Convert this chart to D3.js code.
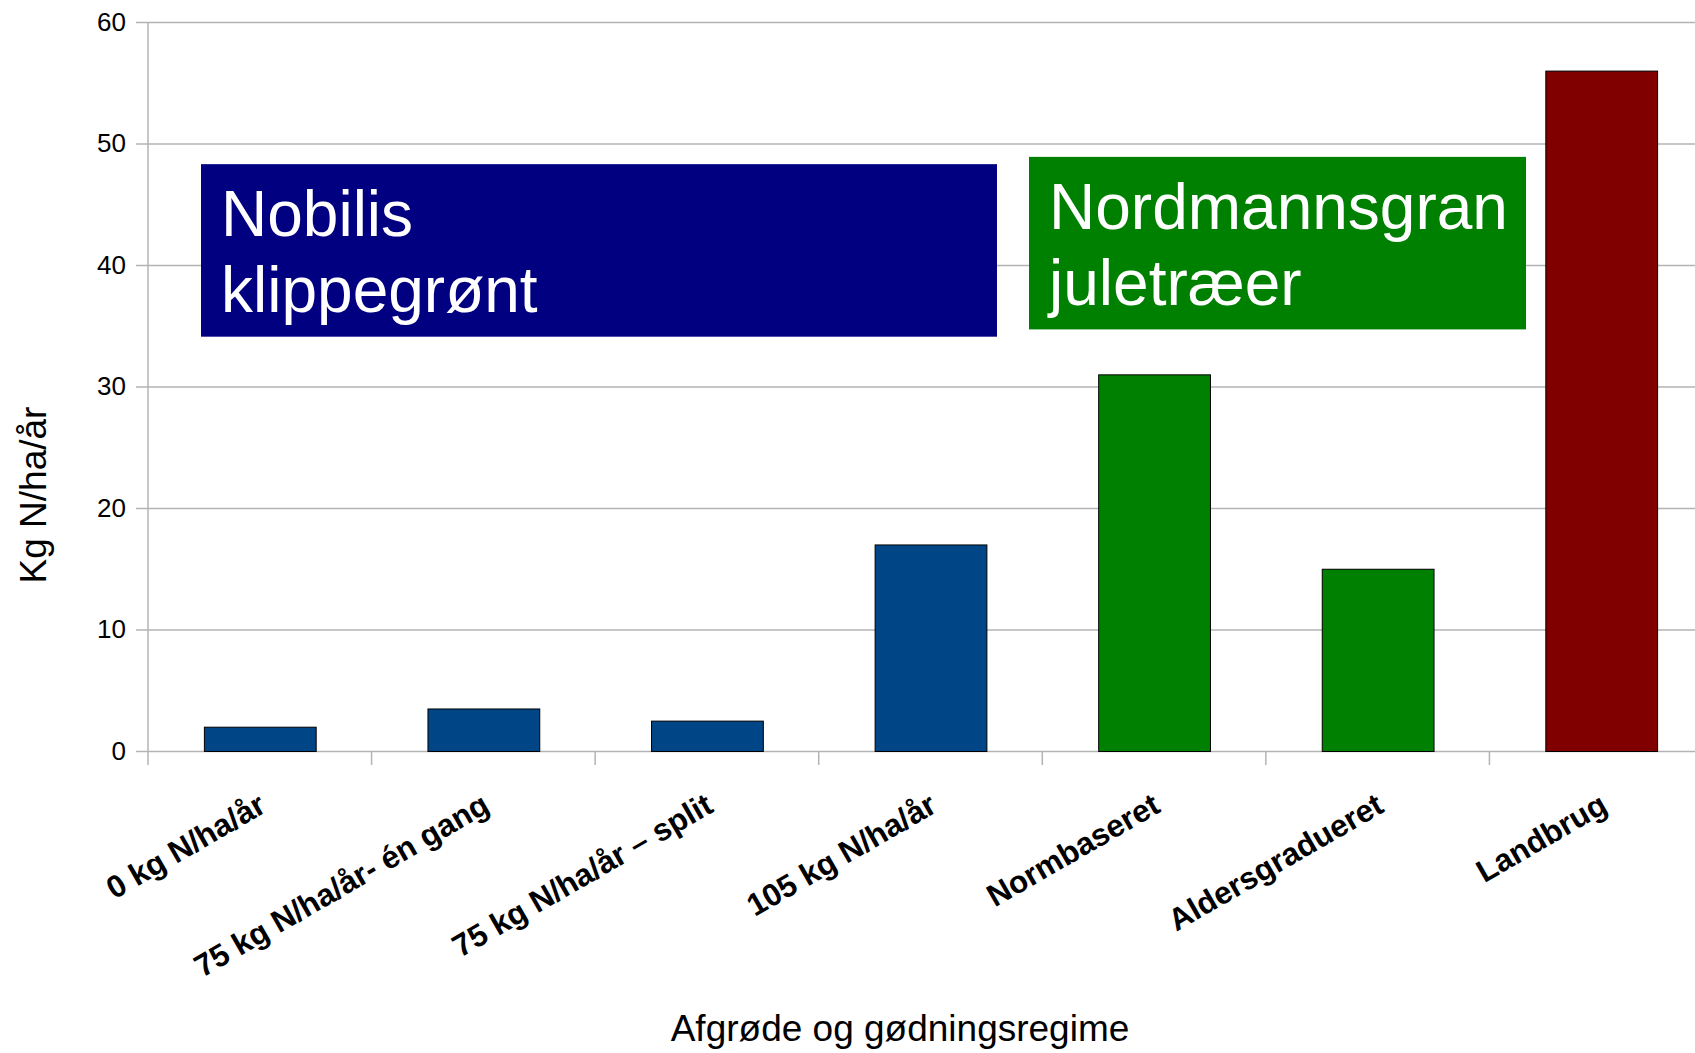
<!DOCTYPE html>
<html>
<head>
<meta charset="utf-8">
<script src="https://cdn.jsdelivr.net/npm/d3@7"></script>
<style>
  html, body { margin: 0; padding: 0; background: #fff; overflow: hidden; }
  svg { display: block; font-family: "Liberation Sans", Arial, sans-serif; }
</style>
</head>
<body>
<div id="chart"></div>
<script>
const categories = [
    '0 kg N/ha/år',
    '75 kg N/ha/år- én gang',
    '75 kg N/ha/år – split',
    '105 kg N/ha/år',
    'Normbaseret',
    'Aldersgradueret',
    'Landbrug'
];
const values = [2, 3.5, 2.5, 17, 31, 15, 56];
const groups = ['Nobilis', 'Nobilis', 'Nobilis', 'Nobilis', 'Nordmannsgran', 'Nordmannsgran', 'Landbrug'];
const yTicks = [0, 10, 20, 30, 40, 50, 60];
const boxLines = [
    ['Nobilis', 'klippegrønt'],
    ['Nordmannsgran', 'juletræer']
];
const yTitle = 'Kg N/ha/år';
const xTitle = 'Afgrøde og gødningsregime';

function drawChart() {
    const width = 1695, height = 1053;
    const left = 148, right = 1713, top = 22, bottom = 751;

    const svg = d3.select('#chart')
        .append('svg')
        .attr('width', width)
        .attr('height', height);

    const x = d3.scaleBand()
        .domain(categories)
        .range([left, right])
        .paddingInner(0.5)
        .paddingOuter(0.25);

    const y = d3.scaleLinear()
        .domain([0, 60])
        .range([bottom, top]);

    const color = d3.scaleOrdinal()
        .domain(['Nobilis', 'Nordmannsgran', 'Landbrug'])
        .range(['#004586', '#008000', '#800000']);

    // gridlines
    svg.append('g')
        .selectAll('line')
        .data(yTicks)
        .join('line')
        .attr('x1', left - 12)
        .attr('x2', width)
        .attr('y1', d => y(d) + 0.5)
        .attr('y2', d => y(d) + 0.5)
        .attr('stroke', '#b3b3b3')
        .attr('stroke-width', 1.5);

    // y axis
    const yAxis = svg.append('g')
        .attr('transform', `translate(${left},0)`)
        .call(d3.axisLeft(y).tickValues(yTicks).tickSize(12).tickPadding(10));
    yAxis.select('.domain').remove();
    yAxis.selectAll('line').remove();
    yAxis.selectAll('text')
        .attr('font-size', 26)
        .attr('font-family', '"Liberation Sans", Arial, sans-serif')
        .attr('fill', '#000');

    svg.append('line')
        .attr('x1', left).attr('x2', left)
        .attr('y1', top).attr('y2', bottom + 14)
        .attr('stroke', '#b3b3b3')
        .attr('stroke-width', 1.5);

    // category boundary ticks
    const step = x.step();
    svg.append('g')
        .selectAll('line')
        .data(categories)
        .join('line')
        .attr('x1', d => x(d) - step * 0.25 + step)
        .attr('x2', d => x(d) - step * 0.25 + step)
        .attr('y1', bottom)
        .attr('y2', bottom + 14)
        .attr('stroke', '#b3b3b3')
        .attr('stroke-width', 1.5);

    // bars
    svg.append('g')
        .selectAll('rect')
        .data(values)
        .join('rect')
        .attr('x', (d, i) => x(categories[i]) + 0.5)
        .attr('y', d => y(d) + 0.5)
        .attr('width', x.bandwidth())
        .attr('height', d => y(0) - y(d))
        .attr('fill', (d, i) => color(groups[i]))
        .attr('stroke', '#000')
        .attr('stroke-width', 1);

    // x tick labels
    svg.append('g')
        .selectAll('text')
        .data(categories)
        .join('text')
        .attr('transform', d => `translate(${x(d) + x.bandwidth() / 2 + 8},${bottom + 60}) rotate(-30)`)
        .attr('text-anchor', 'end')
        .attr('font-size', 31.3)
        .attr('font-weight', 'bold')
        .attr('fill', '#000')
        .text(d => d);

    // group boxes
    const boxes = [
        { x0: 201, x1: 997, top: 48.3, bot: 34.1, fill: '#000080', tx: 221 },
        { x0: 1029, x1: 1526, top: 48.9, bot: 34.7, fill: '#008000', tx: 1049 }
    ];
    boxes.forEach((b, i) => {
        svg.append('rect')
            .attr('x', b.x0)
            .attr('y', y(b.top))
            .attr('width', b.x1 - b.x0)
            .attr('height', y(b.bot) - y(b.top))
            .attr('fill', b.fill);
        svg.append('g')
            .selectAll('text')
            .data(boxLines[i])
            .join('text')
            .attr('x', b.tx)
            .attr('y', (d, j) => y(b.top) + 72 + j * 76)
            .attr('font-size', 64)
            .attr('fill', '#fff')
            .text(d => d);
    });

    // axis titles
    svg.append('text')
        .attr('transform', 'translate(46,495) rotate(-90)')
        .attr('text-anchor', 'middle')
        .attr('font-size', 37)
        .attr('fill', '#000')
        .text(yTitle);

    svg.append('text')
        .attr('x', 900)
        .attr('y', 1041)
        .attr('text-anchor', 'middle')
        .attr('font-size', 37)
        .attr('fill', '#000')
        .text(xTitle);
}

window.onload = drawChart;
</script>
</body>
</html>
